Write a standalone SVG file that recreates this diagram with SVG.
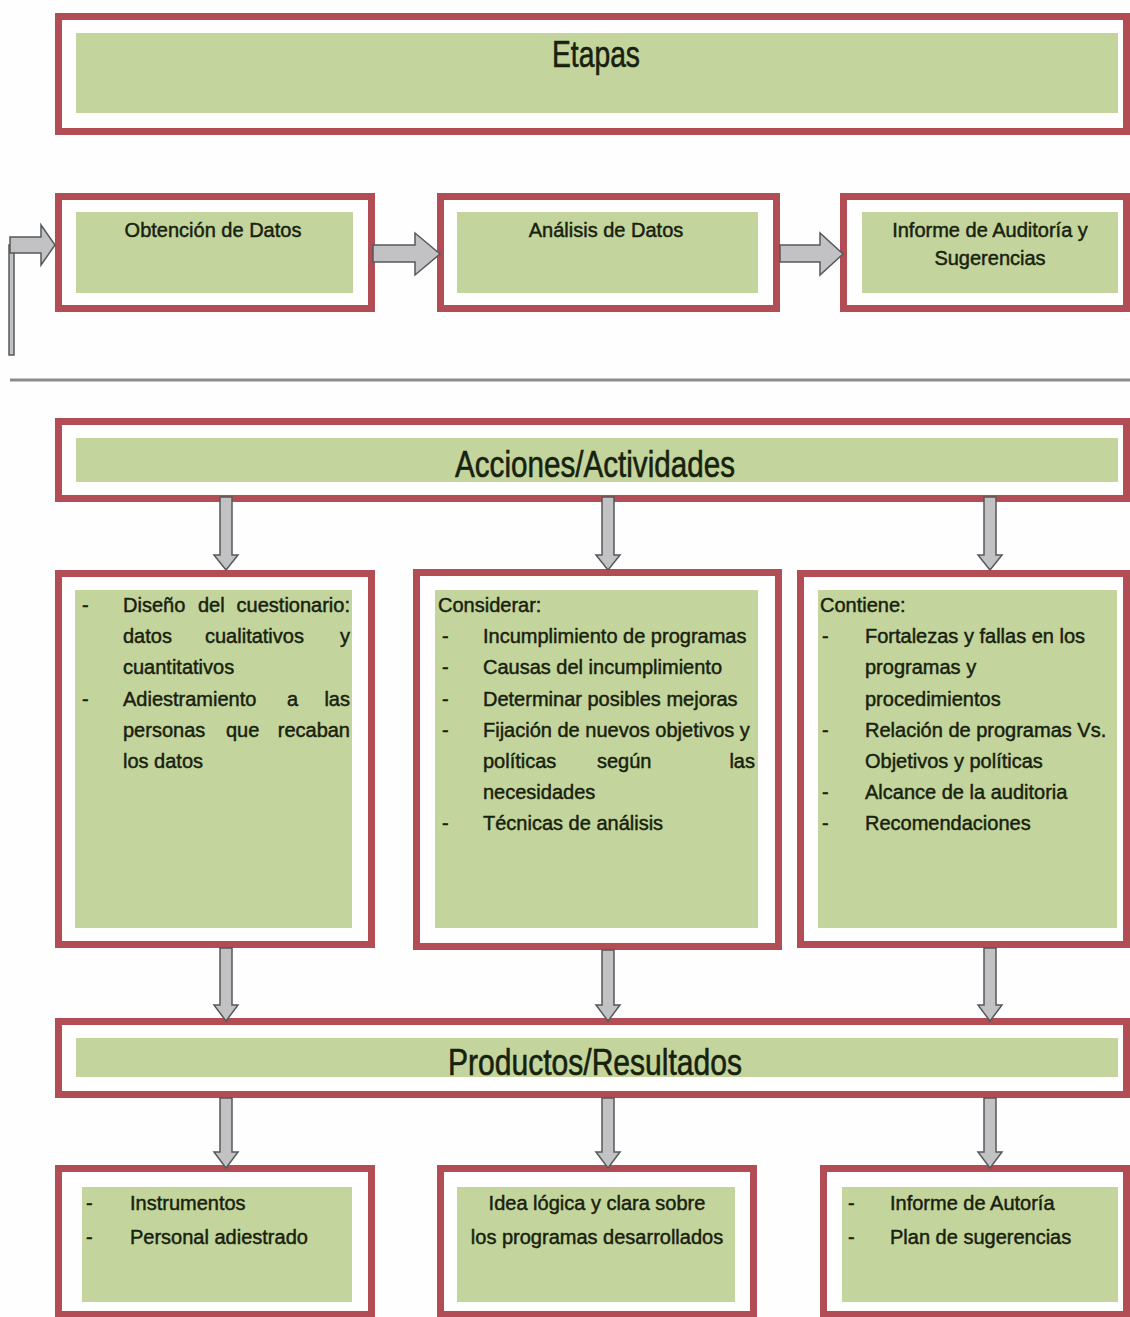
<svg xmlns="http://www.w3.org/2000/svg" width="1130" height="1317" viewBox="0 0 1130 1317">
  <defs>
    <style>
      .frame { fill: #fefefe; stroke: #b24d55; stroke-width: 7; }
      .fill { fill: #c3d59c; }
      .t { font-family: "Liberation Sans", Arial, sans-serif; fill: #18210e; stroke: #18210e; stroke-width: 0.45; }
      .title { font-size: 37px; text-anchor: middle; stroke-width: 0.6; }
      .body { font-size: 20px; }
      .mid { text-anchor: middle; }
      .end { text-anchor: end; }
      .arrow { fill: #c2c2c4; stroke: #555a5a; stroke-width: 1.5; stroke-linejoin: miter; }
    </style>
  </defs>
  <rect width="1130" height="1317" fill="#fefefe"/>

  <!-- Etapas header -->
  <g id="etapas">
    <rect class="frame" x="58.5" y="16.5" width="1068" height="115"/>
    <rect class="fill" x="76" y="33" width="1042" height="80"/>
    <text class="t title" x="596" y="67" font-size="35" textLength="88" lengthAdjust="spacingAndGlyphs">Etapas</text>
  </g>

  <!-- Stage boxes -->
  <g id="obtencion">
    <rect class="frame" x="58.5" y="196.5" width="313" height="112"/>
    <rect class="fill" x="76" y="212" width="277" height="81"/>
    <text class="t body mid" x="213" y="237">Obtención de Datos</text>
  </g>
  <g id="analisis">
    <rect class="frame" x="440.5" y="196.5" width="336" height="112"/>
    <rect class="fill" x="457" y="212" width="301" height="81"/>
    <text class="t body mid" x="606" y="237">Análisis de Datos</text>
  </g>
  <g id="informe">
    <rect class="frame" x="843.5" y="196.5" width="283" height="112"/>
    <rect class="fill" x="862" y="212" width="256" height="81"/>
    <text class="t body mid" x="990" y="237">Informe de Auditoría y</text>
    <text class="t body mid" x="990" y="265">Sugerencias</text>
  </g>

  <!-- Separator -->
  <line x1="10" y1="380" x2="1130" y2="380" stroke="#8c8c8c" stroke-width="3"/>

  <!-- Acciones header -->
  <g id="acciones">
    <rect class="frame" x="58.5" y="421.5" width="1068" height="77"/>
    <rect class="fill" x="76" y="438" width="1042" height="44"/>
    <text class="t title" x="595" y="477" textLength="280" lengthAdjust="spacingAndGlyphs">Acciones/Actividades</text>
  </g>

  <!-- Activity boxes -->
  <g id="actividad-obtencion">
    <rect class="frame" x="58.5" y="573.5" width="313" height="371"/>
    <rect class="fill" x="75" y="590" width="277" height="338"/>
    <g class="t body">
      <text x="82" y="612">-</text>
      <text x="123" y="612">Diseño</text>
      <text x="198" y="612">del</text>
      <text class="end" x="350" y="612">cuestionario:</text>
      <text x="123" y="643">datos</text>
      <text x="205" y="643">cualitativos</text>
      <text class="end" x="350" y="643">y</text>
      <text x="123" y="674">cuantitativos</text>
      <text x="82" y="706">-</text>
      <text x="123" y="706">Adiestramiento</text>
      <text x="287" y="706">a</text>
      <text class="end" x="350" y="706">las</text>
      <text x="123" y="737">personas</text>
      <text x="226" y="737">que</text>
      <text class="end" x="350" y="737">recaban</text>
      <text x="123" y="768">los datos</text>
    </g>
  </g>
  <g id="actividad-analisis">
    <rect class="frame" x="416.5" y="572.5" width="362" height="374"/>
    <rect class="fill" x="435" y="590" width="323" height="338"/>
    <g class="t body">
      <text x="438" y="612">Considerar:</text>
      <text x="442" y="643">-</text>
      <text x="483" y="643">Incumplimiento de programas</text>
      <text x="442" y="674">-</text>
      <text x="483" y="674">Causas del incumplimiento</text>
      <text x="442" y="706">-</text>
      <text x="483" y="706">Determinar posibles mejoras</text>
      <text x="442" y="737">-</text>
      <text x="483" y="737">Fijación de nuevos objetivos y</text>
      <text x="483" y="768">políticas</text>
      <text x="597" y="768">según</text>
      <text class="end" x="755" y="768">las</text>
      <text x="483" y="799">necesidades</text>
      <text x="442" y="830">-</text>
      <text x="483" y="830">Técnicas de análisis</text>
    </g>
  </g>
  <g id="actividad-informe">
    <rect class="frame" x="800.5" y="573.5" width="326" height="371"/>
    <rect class="fill" x="818" y="590" width="299" height="338"/>
    <g class="t body">
      <text x="820" y="612">Contiene:</text>
      <text x="822" y="643">-</text>
      <text x="865" y="643">Fortalezas y fallas en los</text>
      <text x="865" y="674">programas y</text>
      <text x="865" y="706">procedimientos</text>
      <text x="822" y="737">-</text>
      <text x="865" y="737">Relación de programas Vs.</text>
      <text x="865" y="768">Objetivos y políticas</text>
      <text x="822" y="799">-</text>
      <text x="865" y="799">Alcance de la auditoria</text>
      <text x="822" y="830">-</text>
      <text x="865" y="830">Recomendaciones</text>
    </g>
  </g>

  <!-- Productos header -->
  <g id="productos">
    <rect class="frame" x="58.5" y="1021.5" width="1068" height="73"/>
    <rect class="fill" x="76" y="1038" width="1042" height="39"/>
    <text class="t title" x="595" y="1075" textLength="294" lengthAdjust="spacingAndGlyphs">Productos/Resultados</text>
  </g>

  <!-- Result boxes -->
  <g id="resultado-obtencion">
    <rect class="frame" x="58.5" y="1168.5" width="313" height="146"/>
    <rect class="fill" x="82" y="1187" width="270" height="115"/>
    <g class="t body">
      <text x="86" y="1210">-</text>
      <text x="130" y="1210">Instrumentos</text>
      <text x="86" y="1244">-</text>
      <text x="130" y="1244">Personal adiestrado</text>
    </g>
  </g>
  <g id="resultado-analisis">
    <rect class="frame" x="440.5" y="1168.5" width="313" height="146"/>
    <rect class="fill" x="457" y="1187" width="278" height="115"/>
    <g class="t body mid">
      <text x="597" y="1210">Idea lógica y clara sobre</text>
      <text x="597" y="1244">los programas desarrollados</text>
    </g>
  </g>
  <g id="resultado-informe">
    <rect class="frame" x="823.5" y="1168.5" width="303" height="146"/>
    <rect class="fill" x="842" y="1187" width="276" height="115"/>
    <g class="t body">
      <text x="848" y="1210">-</text>
      <text x="890" y="1210">Informe de Autoría</text>
      <text x="848" y="1244">-</text>
      <text x="890" y="1244">Plan de sugerencias</text>
    </g>
  </g>

  <!-- Connectors: block arrows -->
  <g id="connectors">
    <rect class="arrow" x="9" y="245" width="5" height="110"/>
    <polygon class="arrow" points="10,237 41,237 41,225 55,245 41,265 41,253 10,253"/>
    <polygon class="arrow" points="373,245 415,245 415,233 440,254 415,275 415,262 373,262"/>
    <polygon class="arrow" points="780,245 820,245 820,233 843,254 820,275 820,262 780,262"/>

    <polygon class="arrow" points="220,497 232,497 232,555 238,555 226,570 214,555 220,555"/>
    <polygon class="arrow" points="602,497 614,497 614,555 620,555 608,570 596,555 602,555"/>
    <polygon class="arrow" points="984,497 996,497 996,555 1002,555 990,570 978,555 984,555"/>

    <polygon class="arrow" points="220,948 232,948 232,1005 238,1005 226,1021 214,1005 220,1005"/>
    <polygon class="arrow" points="602,950 614,950 614,1005 620,1005 608,1021 596,1005 602,1005"/>
    <polygon class="arrow" points="984,948 996,948 996,1005 1002,1005 990,1021 978,1005 984,1005"/>

    <polygon class="arrow" points="220,1098 232,1098 232,1152 238,1152 226,1168 214,1152 220,1152"/>
    <polygon class="arrow" points="602,1098 614,1098 614,1152 620,1152 608,1168 596,1152 602,1152"/>
    <polygon class="arrow" points="984,1098 996,1098 996,1152 1002,1152 990,1168 978,1152 984,1152"/>
  </g>
</svg>
